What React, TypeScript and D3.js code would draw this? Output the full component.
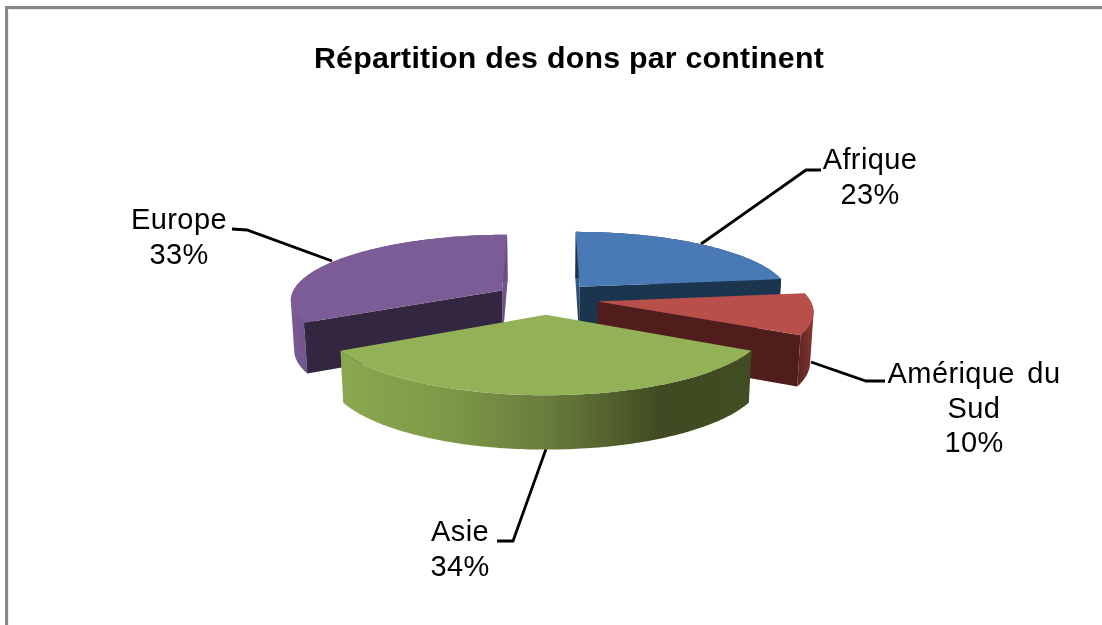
import React from "react";
import * as d3 from "d3";

const categories = ["Afrique", "Amérique du Sud", "Asie", "Europe"];
const shares = [23, 10, 34, 33];
const labelLines = [["Afrique", "23%"], ["Amérique du", "Sud", "10%"], ["Asie", "34%"], ["Europe", "33%"]];
const labelAnchors: [number, number][] = [[870, 169], [974, 383], [460, 541], [179, 229]];
const leaders: [number, number][][] = [
  [[701, 244], [806, 170], [821, 170]],
  [[811, 362], [866, 381], [885, 381]],
  [[546, 449], [513, 541], [497, 541]],
  [[332, 261], [247, 230], [232, 229]],
];
const topColors = ["#4a7ab5", "#b8504c", "#93b156", "#7b5c97"];
const darkColors = ["#1d3550", "#511f1e", "#3f4a21", "#33273f"];
const drawOrder = [3, 0, 1, 2];

// projection parameters of the tilted pie
const X0 = 546, Y0 = 298.4, RX = 212, RY = 65, PERSP = 0.132, EXPLODE = 0.245, DEPTH = 49.5, BOTTOM_SHRINK = 0.987;

type Pt = [number, number];
const project = (theta: number, r: number, mid: number, lower: boolean): Pt => {
  const X = r * Math.sin(theta) + EXPLODE * Math.sin(mid);
  const Y = -r * Math.cos(theta) - EXPLODE * Math.cos(mid);
  const s = 1 / (1 - PERSP * Y);
  const x = X0 + RX * X * s;
  const y = Y0 + RY * Y * s;
  return lower ? [X0 + (x - X0) * BOTTOM_SHRINK, y + DEPTH * (1 + 0.5 * (s - 1))] : [x, y];
};

const line = d3.line<Pt>().x((d) => d[0]).y((d) => d[1]);
const closed = (pts: Pt[]) => line(pts) + "Z";
// every quad wound the same way, so that the union fills without seams or holes
const oriented = (pts: Pt[]) => (d3.polygonArea(pts) < 0 ? pts.slice().reverse() : pts);

const arcs = d3.pie<number>().sort(null).startAngle(0).endAngle(2 * Math.PI)(shares);

const font = "'Liberation Sans', Arial, sans-serif";

export default function App() {
  return (
    <svg width={1102} height={625} style={{ position: "absolute", left: 0, top: 0, background: "#fff" }}>
      <defs>
        <filter id="soft" x="-5%" y="-5%" width="110%" height="110%">
          <feGaussianBlur stdDeviation="0.5" />
        </filter>
        <filter id="softText" x="-5%" y="-5%" width="110%" height="110%">
          <feGaussianBlur stdDeviation="0.35" />
        </filter>
        <linearGradient id="wall2" gradientUnits="userSpaceOnUse" x1="341" x2="750" y1="0" y2="0">
          <stop offset="0" stopColor="#8ca850" />
          <stop offset="0.25" stopColor="#7d9a48" />
          <stop offset="0.5" stopColor="#6a7d3c" />
          <stop offset="0.79" stopColor="#3f4a21" />
          <stop offset="1" stopColor="#414e22" />
        </linearGradient>
        <linearGradient id="wall1" gradientUnits="userSpaceOnUse" x1="792" x2="815" y1="0" y2="0">
          <stop offset="0" stopColor="#511f1e" />
          <stop offset="1" stopColor="#843834" />
        </linearGradient>
        <linearGradient id="wall3" gradientUnits="userSpaceOnUse" x1="289" x2="320" y1="0" y2="0">
          <stop offset="0" stopColor="#7b5c97" />
          <stop offset="1" stopColor="#6a4f84" />
        </linearGradient>
        <linearGradient id="wall0" gradientUnits="userSpaceOnUse" x1="0" x2="0" y1="231" y2="320">
          <stop offset="0" stopColor="#47739f" />
          <stop offset="0.6" stopColor="#345a85" />
          <stop offset="1" stopColor="#1d3550" />
        </linearGradient>
        <linearGradient id="sliver3" gradientUnits="userSpaceOnUse" x1="0" x2="0" y1="234" y2="322">
          <stop offset="0" stopColor="#7b5c97" />
          <stop offset="1" stopColor="#6a4f84" />
        </linearGradient>
      </defs>
      <path d="M6.5,625V7.5H1102" fill="none" stroke="#878787" strokeWidth={3} />
      <path d="M8.5,625V9.5H1102" fill="none" stroke="#ececec" strokeWidth={1} />
      <text x={569} y={68} textAnchor="middle" fontFamily={font} fontWeight="bold" fontSize={30.3} letterSpacing={0.25} fill="#000" filter="url(#softText)">
        Répartition des dons par continent
      </text>
      <g stroke="#000" strokeWidth={2.8} fill="none" filter="url(#soft)">
        {leaders.map((l, i) => (
          <path key={i} d={line(l) ?? ""} />
        ))}
      </g>
      <g filter="url(#soft)">
        {drawOrder.map((i) => {
          const a = arcs[i];
          const mid = (a.startAngle + a.endAngle) / 2;
          const angles = d3.range(a.startAngle, a.endAngle, Math.PI / 180).concat([a.endAngle]);
          const upper = angles.map((t) => project(t, 1, mid, false));
          const face = (t: number) =>
            closed([project(t, 0, mid, false), project(t, 1, mid, false), project(t, 1, mid, true), project(t, 0, mid, true)]);
          const wallFill = i === 2 ? "url(#wall2)" : i === 1 ? "url(#wall1)" : i === 3 ? "url(#wall3)" : darkColors[i];
          const wall = d3
            .pairs(angles)
            .map(([t0, t1]) =>
              closed(oriented([project(t0, 1, mid, false), project(t1, 1, mid, false), project(t1, 1, mid, true), project(t0, 1, mid, true)]))
            )
            .join("");
          return (
            <g key={categories[i]}>
              {i === 0 && <path d={face(a.startAngle)} fill="url(#wall0)" />}
              {i === 3 && <path d={face(a.endAngle)} fill="url(#sliver3)" />}
              <path d={wall} fill={wallFill} />
              {i === 3 && <path d={face(a.startAngle)} fill={darkColors[i]} />}
              {(i === 0 || i === 1) && <path d={face(a.endAngle)} fill={darkColors[i]} />}
              <path d={closed([project(0, 0, mid, false), ...upper])} fill={topColors[i]} />
            </g>
          );
        })}
      </g>
      <g filter="url(#softText)">
        {labelLines.map((lines, i) => (
          <text key={i} textAnchor="middle" fontFamily={font} fontSize={29} letterSpacing={0.4} wordSpacing={4} fill="#000">
            {lines.map((t, j) => (
              <tspan key={j} x={labelAnchors[i][0]} y={labelAnchors[i][1] + j * 34.5}>
                {t}
              </tspan>
            ))}
          </text>
        ))}
      </g>
    </svg>
  );
}
